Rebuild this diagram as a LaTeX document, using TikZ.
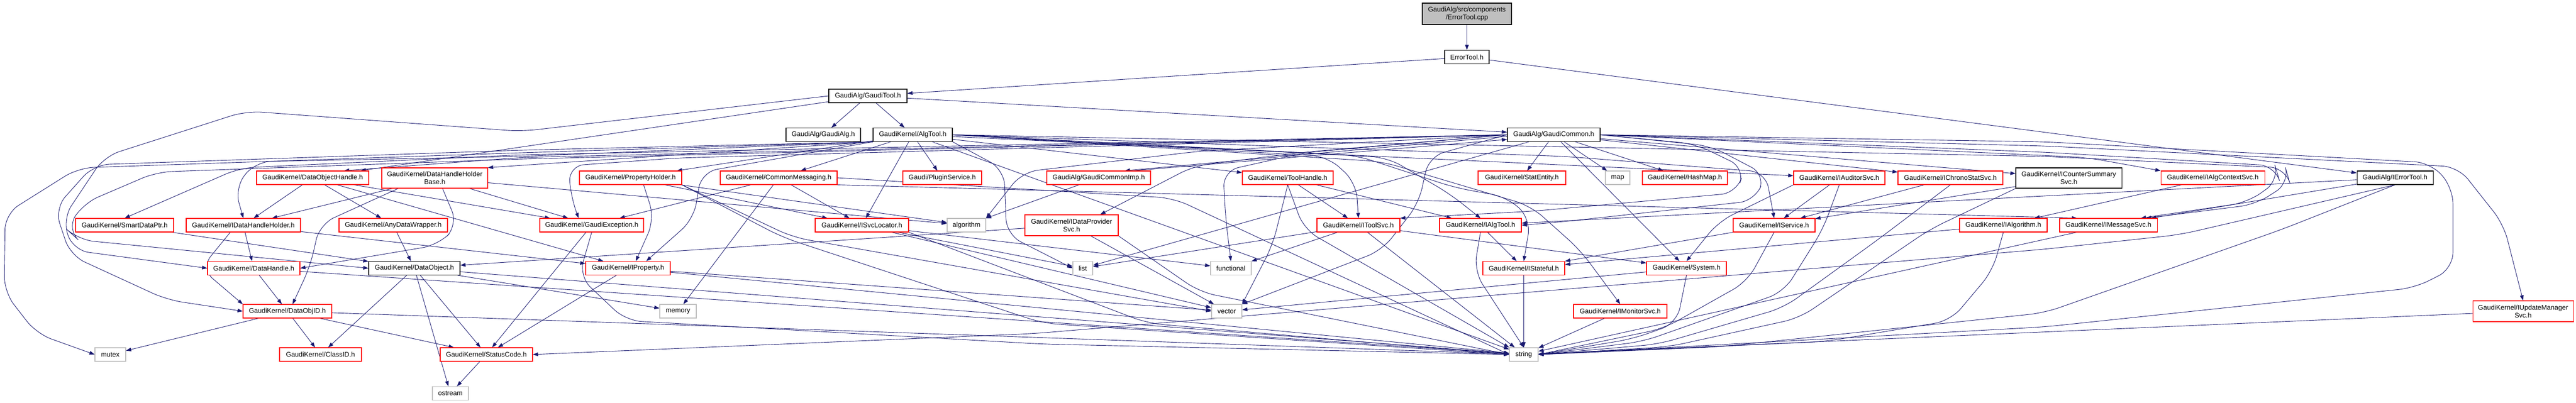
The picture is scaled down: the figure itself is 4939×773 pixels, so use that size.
\documentclass[tikz,border=0pt]{standalone}
\usepackage{fontspec}
\setmainfont{Liberation Sans}
\usetikzlibrary{arrows.meta}
\definecolor{mblue}{HTML}{191970}
\definecolor{grey75}{HTML}{BFBFBF}
\definecolor{dred}{HTML}{FF0000}
\pgfdeclarelayer{bgl}
\pgfsetlayers{bgl,main}
\begin{document}
\begin{tikzpicture}[x=1pt,y=-1pt,
  nd/.style={rectangle, inner sep=0pt, font=\fontsize{13}{15}\selectfont, align=center, line width=1.1pt, fill=white, minimum height=26pt},
  rb/.style={nd, draw=dred},
  bb/.style={nd, draw=black},
  gb/.style={nd, draw=grey75},
  rt/.style={nd, draw=black, fill=grey75},
  wd/.style={minimum width=#1pt},
  ht/.style={minimum height=#1pt},
  edge/.style={draw=mblue, line width=0.9pt, -{Triangle[length=10pt,width=7pt]}},
  redge/.style={edge, rounded corners=30pt},
  ]
\useasboundingbox (0,0) rectangle (4939,773);
% ---------------- nodes ----------------
\node[rt, wd=171, ht=41] (cpp) at (2812.5,26.5) {GaudiAlg/src/components\\/ErrorTool.cpp};
\node[bb, wd=85] (errh) at (2812.5,109.5) {ErrorTool.h};
\node[bb, wd=150] (gtool) at (1664,184) {GaudiAlg/GaudiTool.h};
\node[bb, wd=143] (galg) at (1578.5,258.5) {GaudiAlg/GaudiAlg.h};
\node[bb, wd=152] (algtool) at (1750,258.5) {GaudiKernel/AlgTool.h};
\node[bb, wd=178] (gcommon) at (2979,258.5) {GaudiAlg/GaudiCommon.h};
% rank 4
\node[rb, wd=215] (doh) at (599.5,341) {GaudiKernel/DataObjectHandle.h};
\node[rb, wd=203, ht=39] (dhhb) at (833.5,341.5) {GaudiKernel/DataHandleHolder\\Base.h};
\node[rb, wd=196] (propholder) at (1209,341) {GaudiKernel/PropertyHolder.h};
\node[rb, wd=224] (commsg) at (1493,341) {GaudiKernel/CommonMessaging.h};
\node[rb, wd=151] (plugin) at (1806.5,341) {Gaudi/PluginService.h};
\node[rb, wd=199] (gcimp) at (2106.5,341) {GaudiAlg/GaudiCommonImp.h};
\node[rb, wd=174] (toolhandle) at (2469,341) {GaudiKernel/ToolHandle.h};
\node[rb, wd=168] (statentity) at (2918,341) {GaudiKernel/StatEntity.h};
\node[gb, wd=47] (map) at (3101.5,341) {map};
\node[rb, wd=163] (hashmap) at (3230.5,341) {GaudiKernel/HashMap.h};
\node[rb, wd=175] (iauditor) at (3526.5,341) {GaudiKernel/IAuditorSvc.h};
\node[rb, wd=201] (ichrono) at (3739.5,341) {GaudiKernel/IChronoStatSvc.h};
\node[bb, wd=203, ht=39] (icounter) at (3966.5,341.5) {GaudiKernel/ICounterSummary\\Svc.h};
\node[rb, wd=199] (ialgctx) at (4242.5,341) {GaudiKernel/IAlgContextSvc.h};
\node[bb, wd=146] (ierrortool) at (4592,341) {GaudiAlg/IErrorTool.h};
% rank 5
\node[rb, wd=188] (smartdp) at (239,432) {GaudiKernel/SmartDataPtr.h};
\node[rb, wd=219] (idhh) at (466.5,432) {GaudiKernel/IDataHandleHolder.h};
\node[rb, wd=208] (anydw) at (754,432) {GaudiKernel/AnyDataWrapper.h};
\node[rb, wd=199] (gexc) at (1134.5,432) {GaudiKernel/GaudiException.h};
\node[rb, wd=179] (isvcloc) at (1652.5,432) {GaudiKernel/ISvcLocator.h};
\node[gb, wd=74] (algorithm) at (1853,432) {algorithm};
\node[rb, wd=179, ht=40] (idps) at (2054.5,432) {GaudiKernel/IDataProvider\\Svc.h};
\node[rb, wd=159] (itoolsvc) at (2604.5,432) {GaudiKernel/IToolSvc.h};
\node[rb, wd=157] (ialgtool) at (2838.5,432) {GaudiKernel/IAlgTool.h};
\node[rb, wd=157] (iservice) at (3401.5,432) {GaudiKernel/IService.h};
\node[rb, wd=168] (ialgorithm) at (3841,432) {GaudiKernel/IAlgorithm.h};
\node[rb, wd=187] (imsgsvc) at (4042.5,432) {GaudiKernel/IMessageSvc.h};
% rank 6
\node[rb, wd=177] (datahandle) at (486.5,514.5) {GaudiKernel/DataHandle.h};
\node[bb, wd=175] (dataobject) at (794.5,514.5) {GaudiKernel/DataObject.h};
\node[rb, wd=162] (iproperty) at (1204,514.5) {GaudiKernel/IProperty.h};
\node[gb, wd=38] (list) at (2076,514.5) {list};
\node[gb, wd=78] (functional) at (2360,514.5) {functional};
\node[rb, wd=157] (istateful) at (2921.5,514.5) {GaudiKernel/IStateful.h};
\node[rb, wd=153] (system) at (3233.5,514.5) {GaudiKernel/System.h};
% rank 7
\node[rb, wd=170] (dataobjid) at (551,597) {GaudiKernel/DataObjID.h};
\node[gb, wd=70] (memory) at (1300,597) {memory};
\node[gb, wd=58] (vector) at (2352,597) {vector};
\node[rb, wd=179] (imonitor) at (3106.5,597) {GaudiKernel/IMonitorSvc.h};
\node[rb, wd=193, ht=40] (iupdate) at (4837.5,597) {GaudiKernel/IUpdateManager\\Svc.h};
% rank 8
\node[gb, wd=59] (mutex) at (211.5,680) {mutex};
\node[rb, wd=157] (classid) at (614.5,680) {GaudiKernel/ClassID.h};
\node[rb, wd=177] (statuscode) at (932.5,680) {GaudiKernel/StatusCode.h};
\node[gb, wd=55] (string) at (2921.5,680) {string};
% rank 9
\node[gb, wd=69] (ostream) at (863.5,754.5) {ostream};
% ---------------- edges ----------------
\begin{pgfonlayer}{bgl}
\fill[white] (0,0) rectangle (4939,773);
\draw[edge] (cpp) -- (errh);
\draw[edge] (errh) -- (gtool);
\draw[edge] (errh) -- (ierrortool);
\draw[edge] (gtool) -- (galg);
\draw[edge] (gtool) -- (algtool);
\draw[edge] (gtool) -- (gcommon);
\draw[edge] (gtool) -- (doh);
\draw[redge] (gtool.west) -- (1000,252) -- (472,213) -- (200,300) -- (120,420) -- (140,480) -- (datahandle.west);
% AlgTool
\draw[edge] (algtool) -- (propholder);
\draw[edge] (algtool) -- (commsg);
\draw[edge] (algtool) -- (plugin);
\draw[edge] (algtool.south west) -- (dhhb.north east);
\draw[edge] (algtool) -- (toolhandle);
\draw[edge] (algtool) -- (iauditor);
\draw[edge] (algtool) -- (isvcloc);
\draw[redge] (algtool.east) -- (2545,300) -- (2600,350) -- (itoolsvc.north);
\draw[redge] (algtool.east) -- (2660,302) -- (2780,372) -- (ialgtool.north);
\draw[redge] (algtool.east) -- (2600,298) -- (2790,360) -- (2890,378) -- (2935,420) -- (istateful.north);
\draw[redge] (algtool.east) -- (3000,300) -- (3385,330) -- (iservice.north);
\draw[redge] (algtool.east) -- (2650,310) -- (2935,395) -- (3030,480) -- (imonitor.north);
\draw[redge] (algtool.east) -- (3920,300) -- (4382,322) -- (4390,350) -- (4325,392) -- ([xshift=72pt]imsgsvc.north);
\draw[redge] (algtool.south west) -- (1345,330) -- (1330,420) -- ([xshift=35pt]iproperty.north);
\draw[redge] (algtool.south west) -- (1000,300) -- (490,310) -- (450,360) -- (idhh.north);
\draw[redge] (algtool.south west) -- (1000,293) -- (150,322) -- (10,410) -- (8,560) -- (70,640) -- (mutex.west);
\draw[redge] (algtool.south west) -- (1000,288) -- (180,316) -- (105,400) -- (135,490) -- (320,575) -- (dataobjid.west);
\draw[redge] (algtool.south east) -- (1925,325) -- (1930,450) -- (list.west);
\draw[edge] (algtool) -- (string);
% GaudiCommon
\draw[edge] ([yshift=-3pt]gcommon.west) -- ([xshift=50pt]gcimp.north);
\draw[edge] ([xshift=65pt]gcimp.north) -- ([yshift=-9pt]gcommon.west);
\draw[edge] (gcommon) -- (statentity);
\draw[edge] (gcommon) -- (map);
\draw[edge] (gcommon) -- (hashmap);
\draw[edge] (gcommon) -- (ichrono);
\draw[edge] (gcommon) -- (icounter);
\draw[redge] (gcommon.east) -- (4000,302) -- (ialgctx.north west);
\draw[redge] (gcommon.east) -- (3920,280) -- (4713,320) -- (4800,430) -- (iupdate.north);
\draw[redge] (gcommon.east) -- (3920,272) -- (4660,312) -- (4703,360) -- (4703,515) -- (4630,552) -- (3920,627) -- (3100,672) -- (string.east);
\draw[redge] (gcommon.east) -- (3920,292) -- (4362,318) -- (4370,345) -- (4310,388) -- ([xshift=62pt]imsgsvc.north);
\draw[redge] (gcommon.west) -- (2500,292) -- (2290,318) -- ([xshift=55pt]idps.north);
\draw[redge] (gcommon.west) -- (1000,297) -- (460,322) -- (smartdp.north);
\draw[redge] (gcommon.west) -- (1000,302) -- ([xshift=60pt]doh.north);
\draw[redge] (gcommon.west) -- (1000,305) -- (300,330) -- (160,390) -- (128,440) -- (150,460) -- (dataobject.west);
\draw[redge] (gcommon.west) -- (1300,303) -- (1090,318) -- (1095,380) -- ([xshift=-25pt]gexc.north);
\draw[redge] (gcommon.west) -- (2300,290) -- (1960,330) -- (algorithm.north east);
\draw[redge] (gcommon.west) -- (2500,293) -- (2345,328) -- (2350,420) -- (functional.north);
\draw[edge] (gcommon) -- (list);
\draw[redge] (gcommon.west) -- (2740,300) -- (2720,390) -- (2650,480) -- (vector.north east);
\draw[edge] (gcommon) -- (system);
\draw[redge] (gcommon.east) -- (3250,276) -- (3345,322) -- (3330,370) -- (2940,405) -- (itoolsvc.north east);
\draw[redge] (gcommon.east) -- (3280,280) -- (3385,335) -- (3365,385) -- (3000,425) -- (ialgtool.east);
\draw[edge] (gcimp) -- (algorithm);
% rank 4 sources
\draw[edge] (doh) -- (idhh);
\draw[edge] (doh) -- (anydw);
\draw[edge] (doh) -- (gexc);
\draw[edge] (doh) -- (iproperty);
\draw[edge] (dhhb) -- (idhh);
\draw[redge] ([xshift=15pt]dhhb.south) -- (878,432) -- (840,470) -- (datahandle.east);
\draw[redge] ([xshift=-70pt]dhhb.south) -- (613,430) -- (595,510) -- ([xshift=10pt]dataobjid.north);
\draw[edge] (dhhb) -- (gexc);
\draw[edge] (dhhb) -- (algorithm);
\draw[redge] ([xshift=25pt]propholder.south) -- (1255,420) -- ([xshift=15pt]iproperty.north);
\draw[edge] (propholder) -- (isvcloc);
\draw[edge] (propholder) -- (algorithm);
\draw[redge] (propholder.south east) -- (1520,455) -- (vector.west);
\draw[redge] (propholder.south east) -- (1500,455) -- (2000,620) -- (string.west);
\draw[edge] (commsg) -- (gexc);
\draw[edge] (commsg) -- (memory);
\draw[edge] (commsg) -- (isvcloc);
\draw[edge] (commsg.south east) -- ([xshift=-60pt]imsgsvc.north);
\draw[redge] (commsg.east) -- (2250,380) -- (string.west);
\draw[redge] (toolhandle.south) -- (2440,470) -- (vector.north east);
\draw[redge] (toolhandle.south) -- (2500,440) -- (string.north west);
\draw[edge] (toolhandle) -- (itoolsvc);
\draw[edge] (toolhandle) -- (ialgtool);
\draw[edge] (iauditor) -- (iservice);
\draw[redge] (iauditor.south west) -- (3295,425) -- (system.north);
\draw[redge] (iauditor.south) -- (3495,440) -- (3420,560) -- (3150,655) -- (string.east);
\draw[edge] (ichrono) -- (iservice);
\draw[redge] (ichrono.south) -- (3600,460) -- (3420,590) -- (3180,660) -- (string.east);
\draw[edge] (icounter) -- (iservice);
\draw[redge] (icounter.south west) -- (3700,440) -- (3450,610) -- (3200,665) -- (string.east);
\draw[edge] (ialgctx) -- (ialgorithm);
\draw[edge] (ierrortool) -- (ialgtool);
\draw[edge] (ierrortool) -- (imsgsvc);
\draw[redge] (ierrortool.south) -- (4180,450) -- (3920,478) -- (1980,640) -- (statuscode.east);
\draw[redge] (ierrortool.south) -- (4375,440) -- (3920,600) -- (3300,665) -- (string.east);
% rank 5 sources
\draw[edge] (smartdp) -- (dataobject);
\draw[edge] (idhh) -- (datahandle);
\draw[redge] ([xshift=-25pt]idhh.south) -- (385,515) -- (dataobjid.north west);
\draw[edge] (idhh) -- (iproperty);
\draw[edge] (anydw) -- (dataobject);
\draw[edge] (gexc) -- (statuscode);
\draw[redge] (gexc.south) -- (1110,530) -- (1200,615) -- (2000,660) -- (string.west);
\draw[edge] (isvcloc) -- (list);
\draw[edge] (isvcloc) -- (functional);
\draw[edge] (isvcloc) -- (vector);
\draw[redge] (isvcloc.south east) -- (2200,620) -- (string.west);
\draw[edge] (idps) -- (dataobject);
\draw[edge] (idps) -- (vector);
\draw[redge] (idps.south east) -- (2300,560) -- (string.west);
\draw[edge] (itoolsvc) -- (list);
\draw[edge] (itoolsvc) -- (functional);
\draw[edge] (itoolsvc) -- (string);
\draw[edge] (itoolsvc) -- (system);
\draw[edge] (ialgtool) -- (istateful);
\draw[redge] (ialgtool.south) -- (2826,520) -- (string.north);
\draw[edge] (iservice) -- (istateful);
\draw[redge] (iservice.south) -- (3350,540) -- (3190,630) -- (string.east);
\draw[edge] (ialgorithm) -- (istateful);
\draw[redge] (ialgorithm.south) -- (3820,520) -- (3740,615) -- (3500,655) -- (string.east);
\draw[edge] (imsgsvc) -- (string);
% rank 6 sources
\draw[edge] (datahandle) -- (dataobjid);
\draw[edge] (datahandle) -- (string);
\draw[edge] (dataobject) -- (classid);
\draw[edge] (dataobject) -- (statuscode);
\draw[edge] (dataobject) -- (ostream);
\draw[edge] (dataobject) -- (memory);
\draw[edge] (dataobject) -- (string);
\draw[edge] (iproperty) -- (vector);
\draw[edge] (iproperty) -- (string);
\draw[edge] (iproperty) -- (statuscode);
\draw[edge] (istateful) -- (string);
\draw[redge] (system.south) -- (3215,620) -- (3130,650) -- (string.east);
\draw[edge] (system) -- (vector);
% rank 7 sources
\draw[edge] (dataobjid) -- (mutex);
\draw[edge] (dataobjid) -- (classid);
\draw[edge] (dataobjid) -- (statuscode);
\draw[edge] (dataobjid) -- (string);
\draw[edge] (imonitor) -- (string);
\draw[edge] (iupdate) -- (string);
\draw[edge] (statuscode) -- (ostream);
\end{pgfonlayer}
\end{tikzpicture}
\end{document}
